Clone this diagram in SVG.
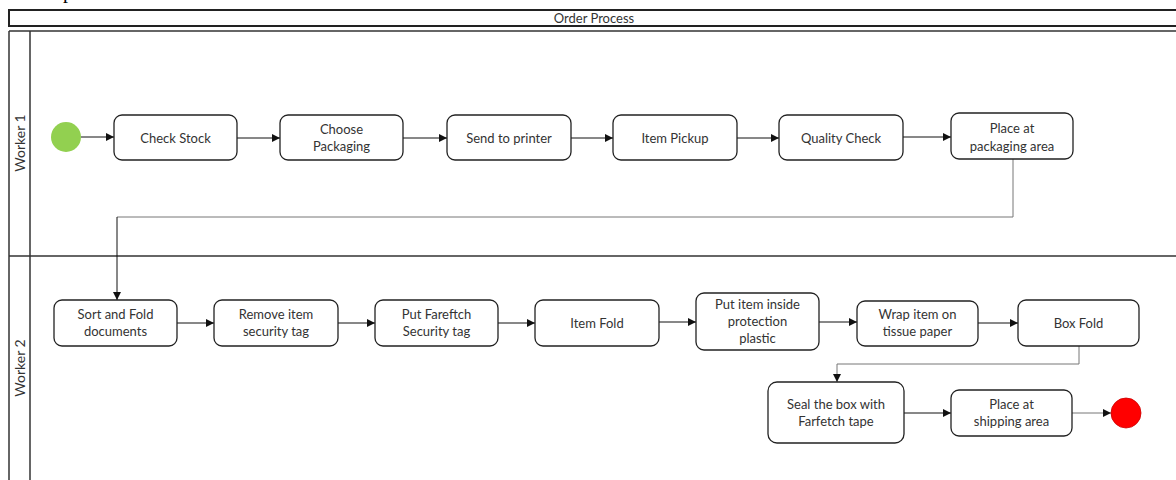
<svg xmlns="http://www.w3.org/2000/svg" width="1176" height="480" viewBox="0 0 1176 480">
  <style>
    .task { fill: #ffffff; stroke: #222222; stroke-width: 1.3; }
    .lbl { font-family: Lato, "Open Sans", sans-serif; font-size: 13px; fill: #333333; text-anchor: middle; }
    .lane { font-family: Lato, "Open Sans", sans-serif; font-size: 14px; fill: #333333; text-anchor: middle; }
    .flow { fill: none; stroke: #111111; stroke-width: 1; marker-end: url(#arrow); }
    .route { fill: none; stroke: #777777; stroke-width: 1; }
    .pool { fill: none; stroke: #333333; stroke-width: 1.5; }
  </style>
  <defs>
    <marker id="arrow" viewBox="0 0 10 10" refX="10" refY="5" markerWidth="9" markerHeight="8" markerUnits="userSpaceOnUse" orient="auto">
      <path d="M0,0 L10,5 L0,10 Z" fill="#111111"/>
    </marker>
  </defs>

  <rect width="1176" height="480" fill="#ffffff"/>

  <!-- caption fragment above the pool -->
  <text x="63" y="-2" font-family="'Liberation Serif', serif" font-size="20" fill="#000000">p</text>

  <!-- pool frame and lanes -->
  <g id="pool">
    <rect x="9" y="10" width="1180" height="16" fill="#ffffff" stroke="#222222" stroke-width="2"/>
    <text x="594" y="22.5" class="lbl" font-size="13.5">Order Process</text>
    <line x1="9" y1="31" x2="1180" y2="31" stroke="#666666" stroke-width="2"/>
    <line x1="9" y1="31" x2="9" y2="482" class="pool"/>
    <line x1="30" y1="31" x2="30" y2="482" class="pool"/>
    <line x1="9" y1="256" x2="1180" y2="256" class="pool"/>
    <text class="lane" transform="translate(25,143) rotate(-90)">Worker 1</text>
    <text class="lane" transform="translate(25,368) rotate(-90)">Worker 2</text>
  </g>

  <!-- connectors -->
  <g id="connectors">
    <line x1="81" y1="137" x2="114" y2="137" class="flow"/>
    <line x1="237" y1="138" x2="280" y2="138" class="flow"/>
    <line x1="403" y1="138" x2="447" y2="138" class="flow"/>
    <line x1="571" y1="138" x2="613" y2="138" class="flow"/>
    <line x1="737" y1="138" x2="779" y2="138" class="flow"/>
    <line x1="903" y1="137" x2="951" y2="137" class="flow"/>
    <polyline points="1013,159 1013,217 117,217" class="route"/>
    <line x1="117" y1="217" x2="117" y2="300" class="flow"/>
    <line x1="177" y1="323" x2="214" y2="323" class="flow"/>
    <line x1="338" y1="323" x2="375" y2="323" class="flow"/>
    <line x1="498" y1="323" x2="535" y2="323" class="flow"/>
    <line x1="659" y1="322" x2="696" y2="322" class="flow"/>
    <line x1="819" y1="322" x2="857" y2="322" class="flow"/>
    <line x1="978" y1="323" x2="1018" y2="323" class="flow"/>
    <polyline points="1079,346 1079,364 837,364" class="route"/>
    <line x1="837" y1="364" x2="837" y2="382" class="flow" style="stroke:#777777"/>
    <line x1="904" y1="413" x2="951" y2="413" class="flow"/>
    <line x1="1072" y1="413" x2="1111" y2="413" class="flow" style="stroke:#777777"/>
  </g>

  <!-- Worker 1 lane -->
  <g id="start"><circle cx="66" cy="137" r="15" fill="#92D050"/></g>
  <g id="check-stock">
    <rect x="114" y="115" width="123" height="45" rx="8" class="task"/>
    <text x="175.5" y="142.5" class="lbl">Check Stock</text>
  </g>
  <g id="choose-packaging">
    <rect x="280" y="115" width="123" height="45" rx="8" class="task"/>
    <text x="341.5" y="134" class="lbl">Choose</text>
    <text x="341.5" y="151" class="lbl">Packaging</text>
  </g>
  <g id="send-to-printer">
    <rect x="447" y="115" width="124" height="45" rx="8" class="task"/>
    <text x="509" y="142.5" class="lbl">Send to printer</text>
  </g>
  <g id="item-pickup">
    <rect x="613" y="115" width="124" height="45" rx="8" class="task"/>
    <text x="675" y="142.5" class="lbl">Item Pickup</text>
  </g>
  <g id="quality-check">
    <rect x="779" y="115" width="124" height="45" rx="8" class="task"/>
    <text x="841" y="142.5" class="lbl">Quality Check</text>
  </g>
  <g id="place-packaging">
    <rect x="951" y="113" width="122" height="46" rx="8" class="task"/>
    <text x="1012" y="132.5" class="lbl">Place at</text>
    <text x="1012" y="150.5" class="lbl">packaging area</text>
  </g>

  <!-- Worker 2 lane -->
  <g id="sort-fold">
    <rect x="54" y="300" width="123" height="46" rx="8" class="task"/>
    <text x="115.5" y="318.5" class="lbl">Sort and Fold</text>
    <text x="115.5" y="336" class="lbl">documents</text>
  </g>
  <g id="remove-tag">
    <rect x="214" y="300" width="124" height="46" rx="8" class="task"/>
    <text x="276" y="318.5" class="lbl">Remove item</text>
    <text x="276" y="336" class="lbl">security tag</text>
  </g>
  <g id="put-tag">
    <rect x="375" y="300" width="123" height="46" rx="8" class="task"/>
    <text x="436.5" y="318.5" class="lbl">Put Fareftch</text>
    <text x="436.5" y="336" class="lbl">Security tag</text>
  </g>
  <g id="item-fold">
    <rect x="535" y="300" width="124" height="46" rx="8" class="task"/>
    <text x="597" y="327.5" class="lbl">Item Fold</text>
  </g>
  <g id="protection-plastic">
    <rect x="696" y="293" width="123" height="57" rx="8" class="task"/>
    <text x="757.5" y="309" class="lbl">Put item inside</text>
    <text x="757.5" y="326" class="lbl">protection</text>
    <text x="757.5" y="343" class="lbl">plastic</text>
  </g>
  <g id="wrap-item">
    <rect x="857" y="301" width="121" height="45" rx="8" class="task"/>
    <text x="917.5" y="319" class="lbl">Wrap item on</text>
    <text x="917.5" y="336" class="lbl">tissue paper</text>
  </g>
  <g id="box-fold">
    <rect x="1018" y="300" width="121" height="46" rx="8" class="task"/>
    <text x="1078.5" y="327.5" class="lbl">Box Fold</text>
  </g>
  <g id="seal-box">
    <rect x="768" y="382" width="136" height="61" rx="9" class="task"/>
    <text x="836" y="408.5" class="lbl">Seal the box with</text>
    <text x="836" y="426" class="lbl">Farfetch tape</text>
  </g>
  <g id="place-shipping">
    <rect x="951" y="390" width="121" height="46" rx="8" class="task"/>
    <text x="1011.5" y="408.5" class="lbl">Place at</text>
    <text x="1011.5" y="426" class="lbl">shipping area</text>
  </g>
  <g id="end"><circle cx="1126" cy="413" r="15" fill="#FF0000" stroke="#cc0000" stroke-width="0.8"/></g>
</svg>
